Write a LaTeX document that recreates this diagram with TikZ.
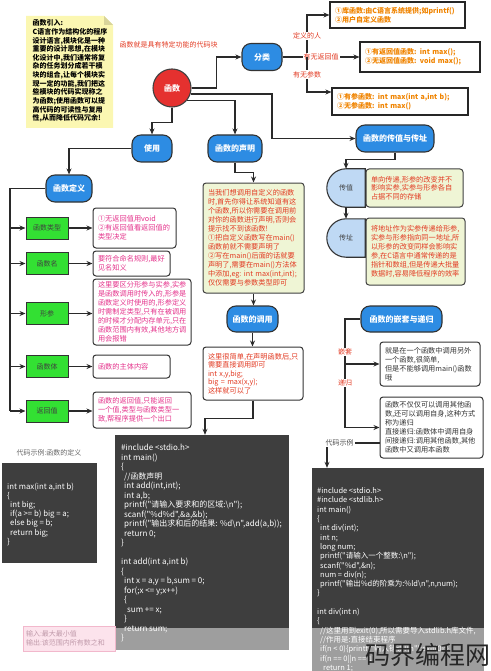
\documentclass[tikz,border=0pt]{standalone}
\usepackage{fontspec}
\newfontfamily\cjk{Noto Sans CJK SC}
\usetikzlibrary{arrows.meta,backgrounds}
\definecolor{cblue}{HTML}{2D8CE3}
\definecolor{cred}{HTML}{E5312F}
\definecolor{cgreen}{HTML}{33E033}
\definecolor{cpink}{HTML}{E5338C}
\definecolor{ctxtred}{HTML}{E23A22}
\definecolor{corange}{HTML}{F08400}
\definecolor{cyg}{HTML}{EFF5D5}
\definecolor{cnote}{HTML}{FBF7B2}
\definecolor{cnotefold}{HTML}{D8D49A}
\definecolor{ccode}{HTML}{3E3E3E}
\definecolor{clb}{HTML}{BFD9F4}
\definecolor{cline}{HTML}{2A2A2A}
\definecolor{cpinkbg}{HTML}{FCE3EC}
\definecolor{cpinkbd}{HTML}{F2B8CC}
\definecolor{cpinktxt}{HTML}{C09AAA}
\newcommand\cind{\hspace*{3pt}}
\begin{document}
\begin{tikzpicture}[x=1pt,y=-1pt,
  arr/.style={draw=cline, line width=1.1pt, -{Stealth[length=6pt,width=5pt]}},
  ln/.style={draw=cline, line width=1.1pt},
  bluebox/.style={draw=black!80, line width=1.1pt, fill=cblue, rounded corners=9pt, text=white, font=\cjk\bfseries\fontsize{8}{9}\selectfont, inner sep=0pt},
  greenbox/.style={draw=black!80, line width=1pt, fill=cgreen, text=black!75, font=\cjk\fontsize{7}{8}\selectfont, minimum width=42, minimum height=22, inner sep=0pt},
  txtbox/.style={line width=1pt, rounded corners=3pt, align=left, inner xsep=5pt, inner ysep=1pt, font=\cjk\fontsize{7.2}{9}\selectfont},
  pinkbox/.style={txtbox, draw=black!80, fill=white, text=cpink},
  ygbox/.style={txtbox, draw=black!75, fill=cyg, text=ctxtred},
  wbox/.style={txtbox, draw=black!80, fill=white, text=black!80},
  obox/.style={draw=black!85, line width=1.1pt, fill=white, align=left, text=corange, font=\cjk\bfseries\fontsize{7}{9}\selectfont, inner xsep=5pt, inner ysep=1pt},
  codebox/.style={fill=ccode, inner sep=0pt},
  codetxt/.style={anchor=north west, inner sep=0pt, text=white, align=left},
  lab/.style={fill=white, inner sep=1pt, text=ctxtred, font=\cjk\fontsize{7}{8}\selectfont},
  lab2/.style={fill=white, inner sep=1pt, text=black!70, font=\cjk\fontsize{7}{8}\selectfont},
  dshape/.style={draw=black!80, line width=1.1pt, fill=clb},
  dtext/.style={minimum size=38, inner sep=0pt, text=black!75, font=\cjk\fontsize{7}{8}\selectfont},
]
\useasboundingbox (0,0) rectangle (490,671);

% note
\fill[cnote] (26,16) -- (104,16) -- (113,25) -- (113,128) -- (26,128) -- cycle;
\fill[cnotefold] (104,16) -- (104,25) -- (113,25) -- cycle;
\node[anchor=north west, inner sep=0pt, align=left, font=\cjk\bfseries\fontsize{7}{8.65}\selectfont] (notetxt) at (32.5,19.5)
{函数引入:\\C语言作为结构化的程序\\设计语言,模块化是一种\\重要的设计思想,在模块\\化设计中,我们通常将复\\杂的任务划分成若干模\\块的组合,让每个模块实\\现一定的功能,我们把这\\些模块的代码实现称之\\为函数;使用函数可以提\\高代码的可读性与复用\\性,从而降低代码冗余!};

\node[text=ctxtred, font=\cjk\fontsize{7}{8}\selectfont, inner sep=0pt] (title) at (168.5,45) {函数就是具有特定功能的代码块};

% main nodes
\node[circle, draw=black!75, line width=1.1pt, fill=cred, minimum size=38, text=white, font=\cjk\bfseries\fontsize{8}{9}\selectfont, inner sep=0pt] (hs) at (172,88) {函数};
\node[bluebox, minimum width=40, minimum height=27] (fl) at (262,57) {分类};
\node[obox, minimum width=135, minimum height=26, text width=125pt] (b1) at (397.5,15) {①库函数:由C语言系统提供;如printf()\\②用户自定义函数};
\node[obox, minimum width=120, minimum height=30, text width=110pt] (b2) at (420,57) {①有返回值函数: int max();\\②无返回值函数: void max();};
\node[obox, minimum width=136, minimum height=27, text width=126pt] (b3) at (400,101.5) {①有参函数: int max(int a,int b);\\②无参函数: int max()};

\node[bluebox, minimum width=40, minimum height=27] (sy) at (152,148.5) {使用};
\node[bluebox, minimum width=46, minimum height=27] (dy) at (69,188.5) {函数定义};

\node[greenbox] (g1) at (47,228) {函数类型};
\node[greenbox] (g2) at (47,263.5) {函数名};
\node[greenbox] (g3) at (47,313.5) {形参};
\node[greenbox] (g4) at (47,366.5) {函数体};
\node[greenbox] (g5) at (47,411) {返回值};

\node[pinkbox, minimum width=83, minimum height=40, text width=73pt] (p1) at (134.5,228) {①无返回值用void\\②有返回值看返回值的\\类型决定};
\node[pinkbox, minimum width=77, minimum height=25, text width=67pt] (p2) at (131.5,263.5) {要符合命名规则,最好\\见名知义};
\node[pinkbox, minimum width=98, minimum height=66, text width=88pt] (p3) at (142,312) {这里要区分形参与实参,实参\\是函数调用时传入的,形参是\\函数定义时使用的,形参定义\\时需制定类型,只有在被调用\\的时候才分配内存单元,只在\\函数范围内有效,其他地方调\\用会报错};
\node[pinkbox, minimum width=77, minimum height=23, text width=67pt] (p4) at (131.5,366.5) {函数的主体内容};
\node[pinkbox, minimum width=98, minimum height=36, text width=88pt] (p5) at (142,410) {函数的返回值,只能返回\\一个值,类型与函数类型一\\致,帮程序提供一个出口};

\node[bluebox, minimum width=54, minimum height=27] (dc) at (235,148.5) {函数的声明};
\node[ygbox, minimum width=101, minimum height=110, text width=91pt] (ds) at (253.5,238) {当我们想调用自定义的函数\\时,首先你得让系统知道有这\\个函数,所以你需要在调用前\\对你的函数进行声明,否则会\\提示找不到该函数!\\①把自定义函数写在main()\\函数前就不需要声明了\\②写在main()后面的话就要\\声明了,需要在main()方法体\\中添加,eg:~int~max(int,int);\\仅仅需要与参数类型即可};
\node[bluebox, minimum width=51, minimum height=26] (dv) at (252.5,319) {函数的调用};
\node[wbox, text=ctxtred, minimum width=100, minimum height=53, text width=90pt, font=\cjk\fontsize{7.2}{8.5}\selectfont] (dt) at (253,373.5) {这里很简单,在声明函数后,只\\需要直接调用即可\\int x,y,big;\\big = max(x,y);\\这样就可以了};

\node[bluebox, minimum width=78, minimum height=27] (tb) at (395,138.5) {函数的传值与传址};
\node[dtext] (tz) at (346,188) {传值};
\node[dtext] (tc) at (346,238) {传址};
\begin{scope}[on background layer]
\draw[dshape] (tz.north east) -- (tz.north) .. controls +(-10.5,0) and +(0,-10.5) .. (tz.west) .. controls +(0,10.5) and +(-10.5,0) .. (tz.south) -- (tz.south east) -- cycle;
\draw[dshape] (tc.north east) -- (tc.north) .. controls +(-10.5,0) and +(0,-10.5) .. (tc.west) .. controls +(0,10.5) and +(-10.5,0) .. (tc.south) -- (tc.south east) -- cycle;
\end{scope}
\node[ygbox, minimum width=97, minimum height=38, text width=87pt, font=\cjk\fontsize{7.2}{8.6}\selectfont] (zd) at (414.5,188) {单向传递,形参的改变并不\\影响实参,实参与形参各自\\占据不同的存储};
\node[ygbox, minimum width=99, minimum height=67, text width=89pt] (zc) at (415.5,251.5) {将地址作为实参传递给形参,\\实参与形参指向同一地址,所\\以形参的改变同样会影响实\\参,在C语言中通常传递的是\\指针和数组,但是传递大批量\\数据时,容易降低程序的效率};

\node[bluebox, minimum width=81, minimum height=26] (qt) at (401.5,319) {函数的嵌套与递归};
\node[wbox, minimum width=100, minimum height=44, text width=90pt] (q1) at (430,364) {就是在一个函数中调用另外\\一个函数,很简单,\\但是不能够调用main()函数\\哦};
\node[wbox, minimum width=103, minimum height=61, text width=93pt] (q2) at (431.5,427.5) {函数不仅仅可以调用其他函\\数,还可以调用自身,这种方式\\称为递归\\直接递归:函数体中调用自身\\间接递归:调用其他函数,其他\\函数中又调用本函数};

% code boxes
\node[text=black!60, font=\cjk\fontsize{7}{8}\selectfont, inner sep=0pt] (lab0) at (49,453) {代码示例:函数的定义};
\node[codebox, minimum width=95, minimum height=100] (c0) at (49.5,513) {};
\node[codetxt, font=\cjk\fontsize{7.8}{9.2}\selectfont] (c0t) at (7,482.5)
{int max(int a,int b)\\
\{\\
\cind int big;\\
\cind if(a >= b) big = a;\\
\cind else big = b;\\
\cind return big;\\
\}};

\node[codebox, minimum width=174, minimum height=215] (c1) at (202,542.5) {};
\node[codetxt, font=\cjk\fontsize{8}{9.5}\selectfont] (c1t) at (121,444.2)
{\#include <stdio.h>\\
int main()\\
\{\\
\cind //函数声明\\
\cind int add(int,int);\\
\cind int a,b;\\
\cind printf("请输入要求和的区域:\textbackslash n");\\
\cind scanf("\%d\%d",\&a,\&b);\\
\cind printf("输出求和后的结果: \%d\textbackslash n",add(a,b));\\
\cind return 0;\\
\}\\[9.5pt]
int add(int a,int b)\\
\{\\
\cind int x = a,y = b,sum = 0;\\
\cind for(;x <= y;x++)\\
\cind \{\\
\cind\cind sum += x;\\
\cind \}\\
\cind return sum;\\
\}};

\node[codebox, minimum width=172, minimum height=203] (c2) at (398,569.5) {};
\node[codetxt, font=\cjk\fontsize{7.5}{9.3}\selectfont] (c2t) at (317,487.5)
{\#include <stdio.h>\\
\#include <stdlib.h>\\
int main()\\
\{\\
\cind int div(int);\\
\cind int n;\\
\cind long num;\\
\cind printf("请输入一个整数:\textbackslash n");\\
\cind scanf("\%d",\&n);\\
\cind num = div(n);\\
\cind printf("输出\%d的阶乘为:\%ld\textbackslash n",n,num);\\
\}\\[9.3pt]
int div(int n)\\
\{\\
\cind //这里用到exit(0),所以需要导入stdlib.h库文件,\\
\cind //作用是:直接结束程序\\
\cind if(n < 0)\{printf("输入错误!\textbackslash n");exit(0);\}\\
\cind if(n == 0||n == 1)\\
\cind\cind return 1;};

% connectors
\draw[arr] (hs.east) -- ++(25,0) |- (fl.west);
\draw[ln] (fl.east) -- (307,0 |- fl.east) coordinate (j1);
\draw[arr] (j1) |- node[lab,pos=0.25]{定义的人} (b1.west);
\draw[arr] (fl.east) -- node[lab]{有无返回值} (b2.west);
\draw[arr] (j1) -- node[lab]{有无参数} (307,92) -- (b3.west |- 0,92);

\draw[arr] (hs.-18) -| (272,0 |- tb.west) -- (tb.west);
\draw[arr] (hs.-39) -| (dc.north);
\draw[arr] (hs.south) -- ++(0,15) -| (sy.north);
\draw[arr] (sy.west) -| (dy.north);
\draw[ln] (dy.west) -| (10,0 |- g5.west);
\foreach \g in {g1,g2,g3,g4,g5} \draw[arr] (10,0 |- \g.west) -- (\g.west);
\foreach \i in {1,...,5} \draw[arr] (g\i.east) -- (g\i.east -| p\i.west);

\draw[arr] (dc.south) -- ++(0,10) -| (ds.north);
\draw[arr] (ds.south) -- (ds.south |- dv.north);
\draw[arr] (dv.south) -- (dv.south |- dt.north);
\draw[arr] (dt.south) -- ++(0,18) -| (205,0 |- c1.north);

\draw[arr] (tb.south) -- ++(0,7) -| (tz.north);
\draw[arr] (tz.south) -- (tc.north);

\draw[ln] (qt.west) -| node[lab,pos=0.652]{嵌套} node[lab,pos=0.795]{递归} (345,0 |- q2.west);
\draw[arr] (345,0 |- q1.west) -- (q1.west);
\draw[arr] (345,0 |- q2.west) -- (q2.west);
\draw[arr] (q2.west |- 0,443) -| node[lab2,pos=0.38]{代码示例} (327,0 |- c2.north);

% overlay band and note
\fill[white, opacity=0.5] (115,628) rectangle (490,671);
\node[draw=cpinkbd, line width=0.6pt, fill=cpinkbg, minimum width=92, minimum height=25, text width=86pt, inner xsep=3pt, inner ysep=0pt, align=left, text=cpinktxt, font=\cjk\fontsize{7}{9.5}\selectfont] (pk) at (69,638.5) {输入:最大最小值\\输出:该范围内所有数之和};

\node[font=\cjk\fontsize{25}{26}\selectfont, text=black!85, inner sep=0pt] (wm) at (428,655) {码界编程网};
\end{tikzpicture}
\end{document}
